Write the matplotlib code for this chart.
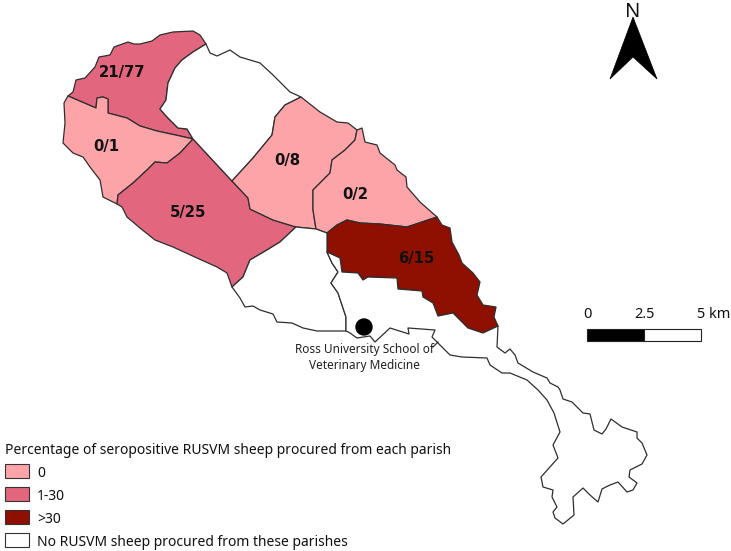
import matplotlib
matplotlib.use('Agg')
import matplotlib.pyplot as plt
from matplotlib.patches import Polygon, Rectangle, Circle

# map outlines in pixels (x right, y down)
nw_coast = [(68,96),(73,92),(76,80),(85,78),(95,67),(99,57),(110,55),(114,47),(128,42),(134,44),(140,44),(152,41),(160,35),(173,32),(193,31),(200,35),(206,44)]
nw_inner = [(206,44),(193,52),(182,60),(175,68),(168,83),(166,100),(160,109),(167,117),(178,128),(187,129),(193,139)]
nw_west = [(193,139),(180,136),(157,131),(140,126),(127,118),(108,113),(108,99),(103,97),(97,98),(96,108),(82,102),(68,96)]
west_coast = [(68,96),(64,103),(65,123),(63,143),(73,153),(83,157),(90,167),(100,180),(103,197),(117,204)]
west_south = [(117,204),(118,195),(133,183),(147,170),(155,162),(167,163),(180,153),(193,139)]
sw_coast = [(117,204),(122,207),(127,217),(140,228),(155,240),(173,247),(197,258),(217,267),(227,273),(232,287)]
sw_inner = [(232,287),(243,277),(250,260),(267,250),(280,242),(296,227)]
centre_south = [(296,227),(273,220),(250,209),(248,198),(232,181)]
centre_west = [(232,181),(193,139)]
n_coast = [(206,44),(210,53),(217,56),(230,50),(240,57),(260,63),(273,75),(290,92),(301,97)]
n_inner = [(301,97),(285,105),(275,117),(272,135),(253,158),(232,181)]
c_coast = [(301,97),(320,112),(337,122),(348,123),(357,130)]
c_east = [(357,130),(355,140),(345,150),(332,160),(330,173),(313,190),(313,210),(316,229)]
c_south = [(316,229),(296,227)]
e_coast = [(357,130),(362,128),(365,142),(377,145),(380,153),(395,165),(397,170),(406,177),(407,187),(420,202),(437,217)]
e_south = [(437,217),(407,227),(380,224),(360,223),(347,220),(337,225),(327,233),(316,229)]
d_coast = [(437,217),(442,225),(450,228),(452,242),(459,255),(462,263),(473,273),(480,282),(477,295),(483,305),(496,307),(494,317),(498,326)]
d_south = [(498,326),(483,333),(468,328),(453,313),(438,316),(433,303),(423,297),(422,291),(398,289),(397,278),(368,277),(363,280),(358,273),(342,272),(340,258),(327,252),(327,233)]
s_west = [(327,252),(332,263),(338,272),(331,283),(338,293),(346,317),(346,331)]
sw2_coast = [(232,287),(240,298),(245,307),(253,306),(260,310),(273,314),(277,322),(292,323),(303,328),(317,331),(346,331)]
s_coast = [(346,331),(350,333),(357,338),(370,336),(375,342),(390,328),(409,334),(408,328),(435,330),(432,337),(437,342),(450,355),(462,357),(487,358),(490,365),(502,373),(510,373),(527,380),(538,390),(547,400),(554,413),(560,432),(553,445),(558,458),(541,477),(543,487),(553,490),(552,497),(557,507),(553,512),(555,518),(563,524),(574,515),(573,497),(583,488),(590,495),(598,502),(602,489),(610,485),(618,482),(627,492),(633,490),(637,483),(629,477),(630,470),(642,464),(647,455),(642,443),(637,438),(637,432),(622,427),(611,419),(606,429),(602,434),(594,430),(590,414),(583,413),(572,402),(563,399),(560,390),(558,387),(550,383),(547,378),(533,372),(518,363),(515,355),(510,349),(505,353),(497,347),(498,326)]
jetty = [(433,347),(438,342)]

pink = '#fda4a9'
rose = '#e1667e'
dark = '#8f0f00'
edge = '#2e2e2e'

parishes = [
    (nw_coast + nw_inner + nw_west, rose),
    (west_coast + west_south + nw_west, pink),
    (sw_coast + sw_inner + centre_south + centre_west + west_south[::-1], rose),
    (n_coast + n_inner + centre_west + nw_inner[::-1], 'white'),
    (c_coast + c_east + c_south + centre_south + n_inner[::-1], pink),
    (e_coast + e_south + c_east[::-1], pink),
    (d_coast + d_south + e_south[-2::-1], dark),
    (sw2_coast + s_west[::-1] + [(327,233),(316,229),(296,227)] + sw_inner[::-1], 'white'),
    (s_coast + d_south[:-1] + s_west[1:], 'white'),
]

count_labels = ['21/77', '0/1', '5/25', '0/8', '0/2', '6/15']
label_xy = [(122,73), (106,147), (188,212), (287,160), (355,195), (416,258)]

legend_title = 'Percentage of seropositive RUSVM sheep procured from each parish'
legend_labels = ['0', '1-30', '>30', 'No RUSVM sheep procured from these parishes']
legend_colors = [pink, rose, dark, 'white']
legend_tops = [464, 487, 510, 533]

plt.rcParams['font.family'] = ['Noto Sans', 'DejaVu Sans']

fig = plt.figure(figsize=(7.31, 5.51), dpi=100)
ax = fig.add_axes([0, 0, 1, 1])
ax.set_xlim(0, 731)
ax.set_ylim(551, 0)
ax.axis('off')

for pts, col in parishes:
    ax.add_patch(Polygon(pts, closed=True, facecolor=col, edgecolor=edge, linewidth=0.9, joinstyle='round'))
ax.plot(*zip(*jetty), color=edge, linewidth=0.9)

for txt, (x, y) in zip(count_labels, label_xy):
    ax.text(x, y, txt, ha='center', va='center', fontsize=10.7, fontweight='bold', color='#111111', family='DejaVu Sans')

# school marker
ax.add_patch(Circle((364, 327), 8, facecolor='black', edgecolor='black'))
ax.text(364, 349, 'Ross University School of', ha='center', va='center', fontsize=8.5, color='#222222')
ax.text(364, 365, 'Veterinary Medicine', ha='center', va='center', fontsize=8.5, color='#222222')

# north arrow
ax.add_patch(Polygon([(633,17),(657,79),(633,57),(610,79)], closed=True, facecolor='black', edgecolor='black', linewidth=0.5))
ax.text(633, 17, 'N', ha='center', va='baseline', fontsize=14.5, color='#111111')

# scale bar
ax.add_patch(Rectangle((587,329), 57, 12, facecolor='black', edgecolor='#222222', linewidth=0.8))
ax.add_patch(Rectangle((644,329), 57, 12, facecolor='white', edgecolor='#222222', linewidth=0.8))
ax.text(587, 318, '0', ha='center', va='baseline', fontsize=10.5, color='#111111')
ax.text(644, 318, '2.5', ha='center', va='baseline', fontsize=10.5, color='#111111')
ax.text(697, 318, '5 km', ha='left', va='baseline', fontsize=10.5, color='#111111')

# legend
ax.text(5, 454, legend_title, ha='left', va='baseline', fontsize=10, color='#111111')
for txt, col, top in zip(legend_labels, legend_colors, legend_tops):
    ax.add_patch(Rectangle((5, top), 24, 14, facecolor=col, edgecolor='#333333', linewidth=0.8))
    ax.text(37, top + 13, txt, ha='left', va='baseline', fontsize=10, color='#111111')

fig.savefig('out.png', dpi=100)
